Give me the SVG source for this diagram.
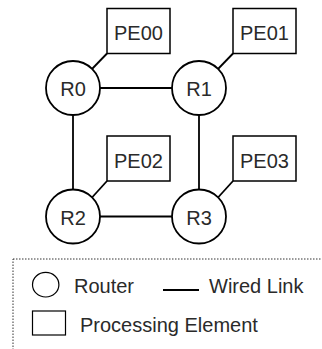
<svg xmlns="http://www.w3.org/2000/svg" width="322" height="349" viewBox="0 0 322 349">
  <style>
    .router { fill: #ffffff; stroke: #000000; stroke-width: 1.8; }
    .pe { fill: #ffffff; stroke: #000000; stroke-width: 1.5; }
    .link { stroke: #000000; stroke-width: 1.8; fill: none; }
    .label { font-family: "Liberation Sans", Arial, sans-serif; font-size: 20px; fill: #2a2a2a; text-anchor: middle; }
    .legend-text { font-family: "Liberation Sans", Arial, sans-serif; font-size: 20px; fill: #2a2a2a; }
  </style>
  <rect width="322" height="349" fill="#ffffff"/>

  <!-- wired links between routers and from routers to their PEs -->
  <g id="connectors">
    <line class="link" x1="100" y1="88" x2="172" y2="88"/>
    <line class="link" x1="100" y1="216.5" x2="172" y2="216.5"/>
    <line class="link" x1="73" y1="115" x2="73" y2="189.5"/>
    <line class="link" x1="199" y1="115" x2="199" y2="189.5"/>
    <line class="link" x1="92" y1="69" x2="107" y2="53.5"/>
    <line class="link" x1="218" y1="69" x2="233" y2="53.5"/>
    <line class="link" x1="92" y1="197.5" x2="107" y2="181"/>
    <line class="link" x1="218" y1="197.5" x2="233" y2="181"/>
  </g>

  <g id="PE00">
    <rect class="pe" x="107" y="8.5" width="63" height="45"/>
    <text class="label" x="138.5" y="39.5">PE00</text>
  </g>
  <g id="PE01">
    <rect class="pe" x="233" y="8.5" width="63" height="45"/>
    <text class="label" x="264.5" y="39.5">PE01</text>
  </g>
  <g id="PE02">
    <rect class="pe" x="107" y="136" width="63" height="45"/>
    <text class="label" x="138.5" y="167.5">PE02</text>
  </g>
  <g id="PE03">
    <rect class="pe" x="233" y="136" width="63" height="45"/>
    <text class="label" x="264.5" y="167.5">PE03</text>
  </g>

  <g id="R0">
    <circle class="router" cx="73" cy="88" r="27"/>
    <text class="label" x="73" y="96">R0</text>
  </g>
  <g id="R1">
    <circle class="router" cx="199" cy="88" r="27"/>
    <text class="label" x="199" y="96">R1</text>
  </g>
  <g id="R2">
    <circle class="router" cx="73" cy="216.5" r="27"/>
    <text class="label" x="73" y="224.5">R2</text>
  </g>
  <g id="R3">
    <circle class="router" cx="199" cy="216.5" r="27"/>
    <text class="label" x="199" y="224.5">R3</text>
  </g>

  <!-- legend -->
  <g id="legend">
    <rect x="13" y="259" width="330" height="110" fill="none" stroke="#333333" stroke-width="1" stroke-dasharray="1.5 1.5"/>
    <ellipse cx="45.7" cy="284.7" rx="13.2" ry="12.3" fill="none" stroke="#000000" stroke-width="1.2"/>
    <text class="legend-text" x="74" y="293">Router</text>
    <line x1="163" y1="290" x2="199" y2="290" stroke="#000000" stroke-width="2.2"/>
    <text class="legend-text" x="209" y="293">Wired Link</text>
    <rect x="32.5" y="311" width="33" height="24" fill="none" stroke="#000000" stroke-width="1.2"/>
    <text class="legend-text" x="80" y="331.5">Processing Element</text>
  </g>
</svg>
